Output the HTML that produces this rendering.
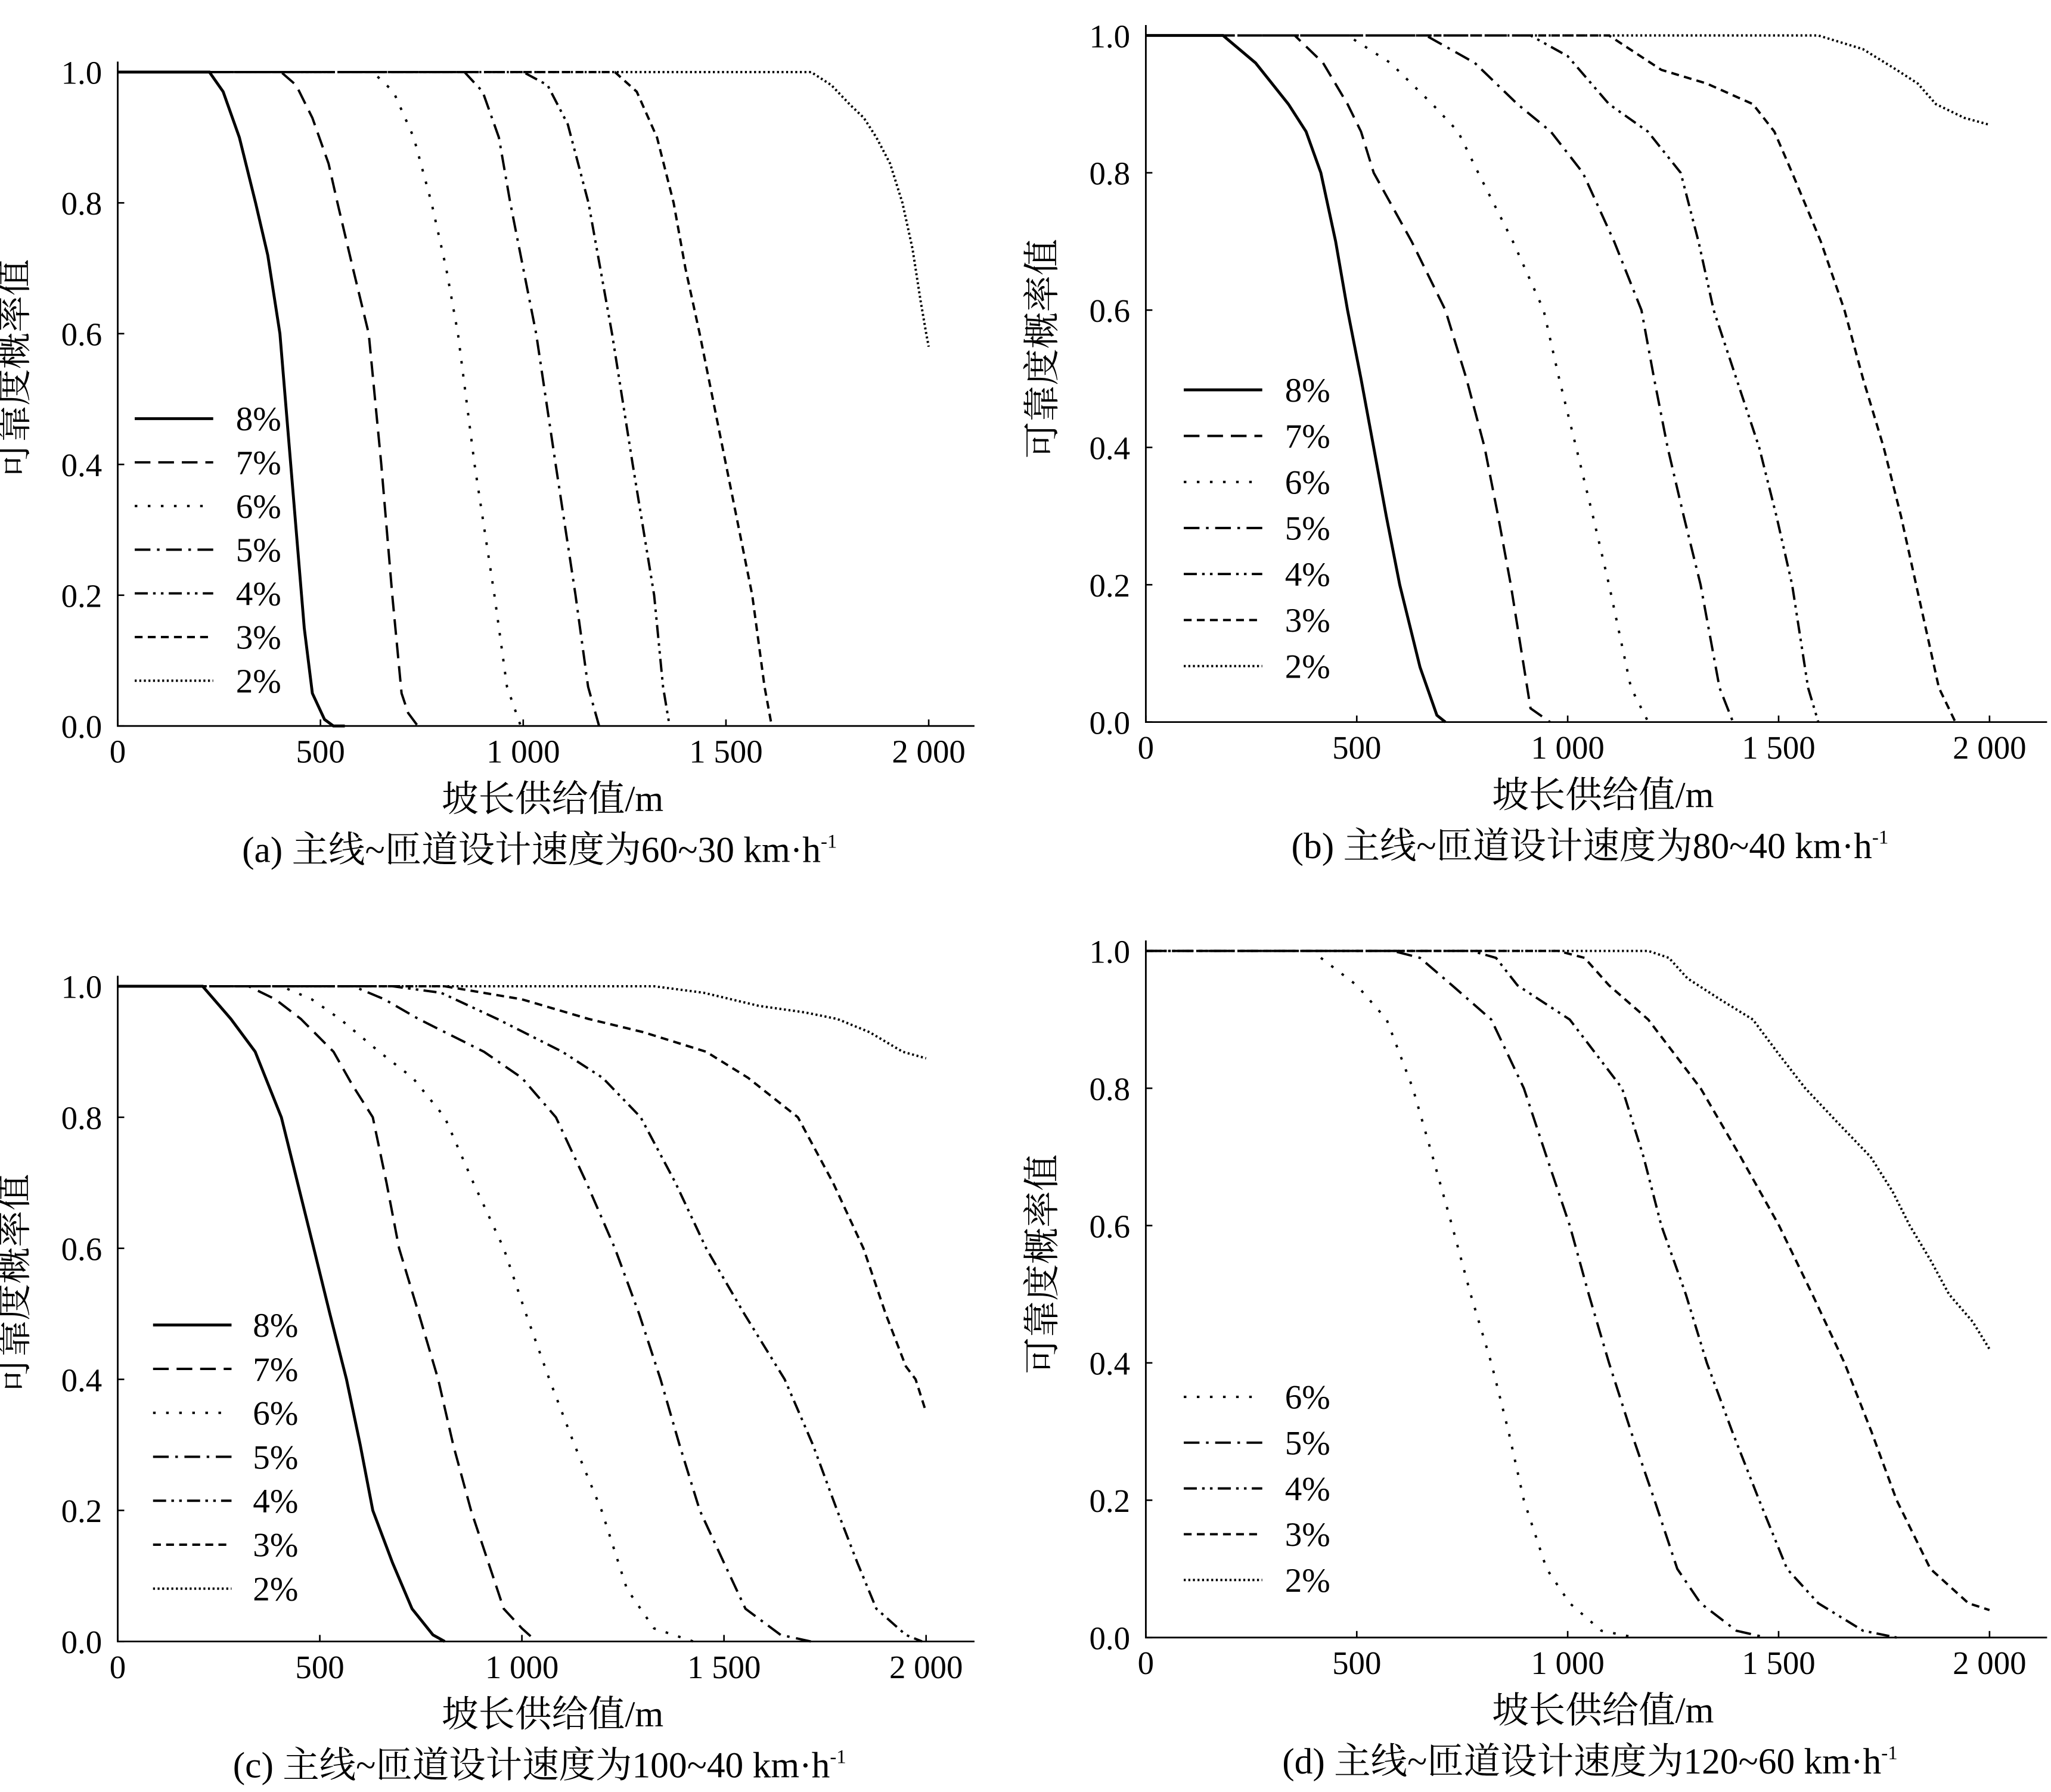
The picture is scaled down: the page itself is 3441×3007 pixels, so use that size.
<!DOCTYPE html>
<html><head><meta charset="utf-8">
<style>
html,body{margin:0;padding:0;background:#fff;}
svg{display:block;}
text{font-family:"Liberation Serif","Noto Serif CJK SC","Noto Sans CJK SC",serif;fill:#000;}
</style></head>
<body>
<svg id="chart" width="3441" height="3007" viewBox="0 0 1568 1370" xmlns="http://www.w3.org/2000/svg"></svg>
<script>
// x tick values and y tick values
const xTicks=[0,500,1000,1500,2000];
const xTickLabels=["0","500","1 000","1 500","2 000"];
const yTicks=[0,0.2,0.4,0.6,0.8,1.0];
const yTickLabels=["0.0","0.2","0.4","0.6","0.8","1.0"];
const grades=["8%","7%","6%","5%","4%","3%","2%"];

// Panel (a)
const a8m=[0,226,260,300,340,370,400,420,440,460,480,510,532,560];
const a8v=[1,1,0.97,0.9,0.8,0.72,0.6,0.45,0.3,0.15,0.05,0.01,0,0];
const a7m=[0,403,440,480,520,542,580,619,650,677,700,716,740];
const a7v=[1,1,0.98,0.93,0.86,0.8,0.7,0.6,0.4,0.2,0.05,0.02,0];
const a6m=[0,629,680,730,774,810,839,880,929,960,994];
const a6v=[1,1,0.97,0.9,0.8,0.7,0.6,0.4,0.2,0.06,0];
const a5m=[0,855,900,940,968,1000,1032,1080,1129,1160,1187];
const a5v=[1,1,0.97,0.9,0.8,0.7,0.6,0.4,0.2,0.06,0];
const a4m=[0,1000,1060,1110,1161,1190,1219,1270,1323,1345,1361];
const a4v=[1,1,0.98,0.92,0.8,0.7,0.6,0.4,0.2,0.06,0];
const a3m=[0,1226,1280,1330,1371,1400,1435,1500,1565,1595,1613];
const a3v=[1,1,0.97,0.9,0.8,0.7,0.6,0.4,0.2,0.06,0];
const a2m=[0,1710,1760,1806,1840,1871,1905,1935,1960,1980,1994,2000];
const a2v=[1,1,0.98,0.95,0.93,0.9,0.86,0.8,0.73,0.65,0.6,0.58];

// Panel (b)
const b8m=[0,183,260,338,380,415,450,478,510,540,570,602,650,690,710];
const b8v=[1,1,0.96,0.9,0.86,0.8,0.7,0.6,0.5,0.4,0.3,0.2,0.08,0.01,0];
const b7m=[0,353,420,478,510,540,630,710,760,803,835,865,912,958];
const b7v=[1,1,0.96,0.9,0.86,0.8,0.7,0.6,0.5,0.4,0.3,0.2,0.02,0];
const b6m=[0,478,580,679,740,788,870,943,980,1020,1060,1098,1150,1191];
const b6v=[1,1,0.96,0.9,0.86,0.8,0.7,0.6,0.5,0.4,0.3,0.2,0.05,0];
const b5m=[0,664,780,881,960,1036,1110,1175,1205,1237,1275,1315,1360,1392];
const b5v=[1,1,0.96,0.9,0.86,0.8,0.7,0.6,0.5,0.4,0.3,0.2,0.05,0];
const b4m=[0,912,1000,1098,1190,1268,1310,1346,1400,1454,1495,1532,1570,1594];
const b4v=[1,1,0.97,0.9,0.86,0.8,0.7,0.6,0.5,0.4,0.3,0.2,0.05,0];
const b3m=[0,1098,1222,1330,1439,1490,1532,1600,1656,1700,1749,1790,1826,1880,1919];
const b3v=[1,1,0.95,0.93,0.9,0.86,0.8,0.7,0.6,0.5,0.4,0.3,0.2,0.05,0];
const b2m=[0,1594,1700,1780,1830,1873,1940,2000];
const b2v=[1,1,0.98,0.95,0.93,0.9,0.88,0.87];

// Panel (c)
const c8m=[0,210,280,340,405,445,485,525,566,600,631,680,728,780,809];
const c8v=[1,1,0.95,0.9,0.8,0.7,0.6,0.5,0.4,0.3,0.2,0.12,0.05,0.01,0];
const c7m=[0,324,390,453,534,580,631,665,696,745,793,830,874,955,1000,1036];
const c7v=[1,1,0.98,0.95,0.9,0.85,0.8,0.7,0.6,0.5,0.4,0.3,0.2,0.05,0.02,0];
const c6m=[0,405,480,550,647,730,809,880,955,1010,1068,1130,1197,1260,1327,1424];
const c6v=[1,1,0.98,0.95,0.9,0.86,0.8,0.7,0.6,0.5,0.4,0.3,0.2,0.08,0.02,0];
const c5m=[0,583,660,744,906,1000,1084,1160,1230,1290,1343,1390,1440,1500,1553,1640,1715];
const c5v=[1,1,0.98,0.95,0.9,0.86,0.8,0.7,0.6,0.5,0.4,0.3,0.2,0.12,0.05,0.01,0];
const c4m=[0,680,800,939,1100,1200,1294,1380,1456,1550,1650,1720,1780,1830,1877,1950,1990];
const c4v=[1,1,0.99,0.95,0.9,0.86,0.8,0.7,0.6,0.5,0.4,0.3,0.2,0.12,0.05,0.01,0];
const c3m=[0,809,1000,1165,1300,1456,1560,1683,1770,1845,1900,1950,1974,2000];
const c3v=[1,1,0.98,0.95,0.93,0.9,0.86,0.8,0.7,0.6,0.5,0.42,0.4,0.35];
const c2m=[0,1327,1450,1586,1700,1780,1860,1942,2000];
const c2v=[1,1,0.99,0.97,0.96,0.95,0.93,0.9,0.89];

// Panel (d)
const d6m=[415,500,571,633,680,726,770,819,860,896,950,1005,1080,1160];
const d6v=[0.99,0.95,0.9,0.8,0.7,0.6,0.5,0.4,0.3,0.2,0.1,0.05,0.01,0];
const d5m=[0,586,650,726,819,896,950,1005,1050,1098,1150,1206,1260,1315,1400,1470];
const d5v=[1,1,0.99,0.95,0.9,0.8,0.7,0.6,0.5,0.4,0.3,0.2,0.1,0.05,0.01,0];
const d4m=[0,772,830,881,1005,1129,1180,1222,1280,1330,1390,1454,1520,1594,1700,1780];
const d4v=[1,1,0.99,0.95,0.9,0.8,0.7,0.6,0.5,0.4,0.3,0.2,0.1,0.05,0.01,0];
const d3m=[0,977,1040,1098,1191,1315,1410,1501,1580,1656,1720,1780,1860,1950,2000];
const d3v=[1,1,0.99,0.95,0.9,0.8,0.7,0.6,0.5,0.4,0.3,0.2,0.1,0.05,0.04];
const d2m=[0,1191,1240,1284,1360,1439,1500,1563,1640,1718,1770,1811,1860,1904,1960,2000];
const d2v=[1,1,0.99,0.96,0.93,0.9,0.85,0.8,0.75,0.7,0.65,0.6,0.55,0.5,0.46,0.42];

const NS="http://www.w3.org/2000/svg";
const svg=document.getElementById('chart');
function el(tag,attrs,parent){const e=document.createElementNS(NS,tag);for(const k in attrs)e.setAttribute(k,attrs[k]);(parent||svg).appendChild(e);return e;}
const dashes={"8%":"none","7%":"12,6","6%":"2,8","5%":"12,5,2,5","4%":"10,4,2,4,2,4","3%":"6,4","2%":"1.5,2"};

const panels=[
 {id:"a",x0:90,x1:710,axEnd:745,yTop:55,yBot:555,cap:"(a) 主线~匝道设计速度为60~30 km·h",
  series:[["8%",a8m,a8v],["7%",a7m,a7v],["6%",a6m,a6v],["5%",a5m,a5v],["4%",a4m,a4v],["3%",a3m,a3v],["2%",a2m,a2v]],
  leg:{x:103,y0:320,dy:33.4,tx:215}},
 {id:"b",x0:876,x1:1521,axEnd:1565,yTop:27,yBot:552,cap:"(b) 主线~匝道设计速度为80~40 km·h",
  series:[["8%",b8m,b8v],["7%",b7m,b7v],["6%",b6m,b6v],["5%",b5m,b5v],["4%",b4m,b4v],["3%",b3m,b3v],["2%",b2m,b2v]],
  leg:{x:905,y0:298,dy:35.2,tx:1017}},
 {id:"c",x0:90,x1:708,axEnd:745,yTop:754,yBot:1255,cap:"(c) 主线~匝道设计速度为100~40 km·h",
  series:[["8%",c8m,c8v],["7%",c7m,c7v],["6%",c6m,c6v],["5%",c5m,c5v],["4%",c4m,c4v],["3%",c3m,c3v],["2%",c2m,c2v]],
  leg:{x:117,y0:1013,dy:33.6,tx:228}},
 {id:"d",x0:876,x1:1521,axEnd:1565,yTop:727,yBot:1252,cap:"(d) 主线~匝道设计速度为120~60 km·h",
  series:[["6%",d6m,d6v],["5%",d5m,d5v],["4%",d4m,d4v],["3%",d3m,d3v],["2%",d2m,d2v]],
  leg:{x:905,y0:1068,dy:35,tx:1017}}
];

panels.forEach(p=>{
  const g=el('g',{});
  
  
  const sx=m=>p.x0+(p.x1-p.x0)*m/2000;
  const sy=v=>p.yBot-(p.yBot-p.yTop)*v;
  const ax=el('path',{d:`M${p.x0},${p.yTop-8}V${p.yBot}H${p.axEnd}`,stroke:'#000','stroke-width':1.3,fill:'none'},g);
  
  
  xTicks.forEach((t,i)=>{
    el('line',{x1:sx(t),x2:sx(t),y1:p.yBot,y2:p.yBot-5,stroke:'#000','stroke-width':1.2},g);
    const tx=el('text',{x:sx(t),y:p.yBot+28,'text-anchor':'middle','font-size':25},g);
    tx.textContent=xTickLabels[i];
    
    
  });
  yTicks.forEach((t,i)=>{
    el('line',{x1:p.x0,x2:p.x0+5,y1:sy(t),y2:sy(t),stroke:'#000','stroke-width':1.2},g);
    const tx=el('text',{x:p.x0-12,y:sy(t)+9,'text-anchor':'end','font-size':25},g);
    tx.textContent=yTickLabels[i];
    
    
  });
  const cx=(p.x0+p.axEnd)/2+5;
  const xt=el('text',{x:cx,y:p.yBot+65,'text-anchor':'middle','font-size':28},g);
  xt.textContent='坡长供给值/m';
  
  
  const yc=(p.yTop+p.yBot)/2-23;
  const yx=p.x0-70;
  const yt=el('text',{x:yx,y:yc,'text-anchor':'middle','font-size':28,transform:`rotate(-90 ${yx} ${yc})`},g);
  yt.textContent='可靠度概率值';
  
  
  const cap=el('text',{x:cx-10,y:p.yBot+104,'text-anchor':'middle','font-size':28},g);
  cap.textContent=p.cap;
  const sup=el('tspan',{dy:-11,'font-size':15},cap);
  sup.textContent='-1';
  
  
  p.series.forEach((s,k)=>{
    const [name,ms,vs]=s;
    let d='';
    ms.forEach((m,i)=>{d+=(i?'L':'M')+sx(m).toFixed(1)+','+sy(vs[i]).toFixed(1);});
    const w=name==="8%"?2.2:1.8;
    const path=el('path',{d:d,fill:'none',stroke:'#000','stroke-width':w,'stroke-dasharray':dashes[name]},g);
    
    
    const ly=p.leg.y0+k*p.leg.dy;
    const ll=el('line',{x1:p.leg.x,x2:p.leg.x+60,y1:ly,y2:ly,stroke:'#000','stroke-width':w,'stroke-dasharray':dashes[name]},g);
    
    
    const lt=el('text',{x:p.leg.tx,y:ly+9,'text-anchor':'end','font-size':26},g);
    lt.textContent=name;
    
    
  });
});
</script>
</body></html>
